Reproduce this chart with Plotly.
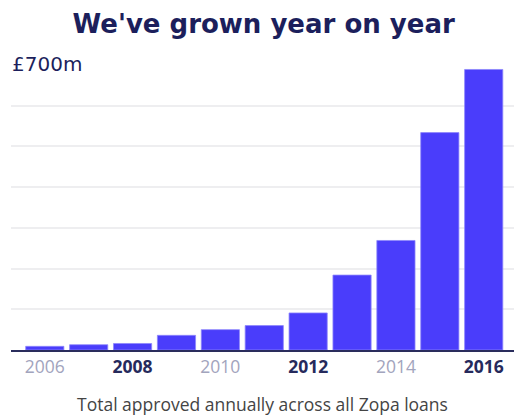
import plotly.graph_objects as go

years = [2006, 2007, 2008, 2009, 2010, 2011, 2012, 2013, 2014, 2015, 2016]
approved_m = [9, 13, 16, 36, 50, 60, 91, 184, 269, 534, 689]
tick_years = [2006, 2008, 2010, 2012, 2014, 2016]
tick_labels = [
    "<span style='color:#a2a4bd'>2006</span>",
    "<b>2008</b>",
    "<span style='color:#a2a4bd'>2010</span>",
    "<b>2012</b>",
    "<span style='color:#a2a4bd'>2014</span>",
    "<b>2016</b>",
]

navy = "#1c1f5c"

fig = go.Figure(go.Bar(
    x=years, y=approved_m,
    marker=dict(color="#4a3dfb", line=dict(width=0.8, color="#8e86fb")),
    width=0.87, hoverinfo="skip",
))

fig.update_layout(
    width=514, height=418,
    margin=dict(l=11, r=0, t=65, b=68),
    paper_bgcolor="white", plot_bgcolor="white",
    showlegend=False,
    title=dict(text="<b>We've grown year on year</b>", x=0.513, xanchor="center",
               y=0.943, yanchor="middle",
               font=dict(family="DejaVu Sans", size=26, color=navy)),
    xaxis=dict(range=[2005.23, 2016.69], tickvals=tick_years, ticktext=tick_labels,
               tickfont=dict(family="Open Sans", size=17.5, color="#262a5c"),
               showgrid=False, showline=True, linecolor="#2a2d5c", linewidth=2,
               ticks="", ticklen=0, zeroline=False),
    yaxis=dict(range=[0, 700], dtick=100, showticklabels=False,
               showgrid=True, gridcolor="#eeeef0", gridwidth=1.5,
               zeroline=False, showline=False),
    annotations=[
        dict(text="£700m", x=0, xref="paper", xanchor="left", xshift=-8,
             y=700, yref="y", yanchor="middle", yshift=1, showarrow=False,
             bgcolor="white", borderpad=8,
             font=dict(family="DejaVu Sans", size=20, color=navy)),
        dict(text="Total approved annually across all Zopa loans",
             x=0.5, xref="paper", xanchor="center", y=0, yref="paper",
             yanchor="bottom", yshift=-68, showarrow=False,
             font=dict(family="Open Sans", size=17.5, color="#444444")),
    ],
)

fig.write_html("out.html")
